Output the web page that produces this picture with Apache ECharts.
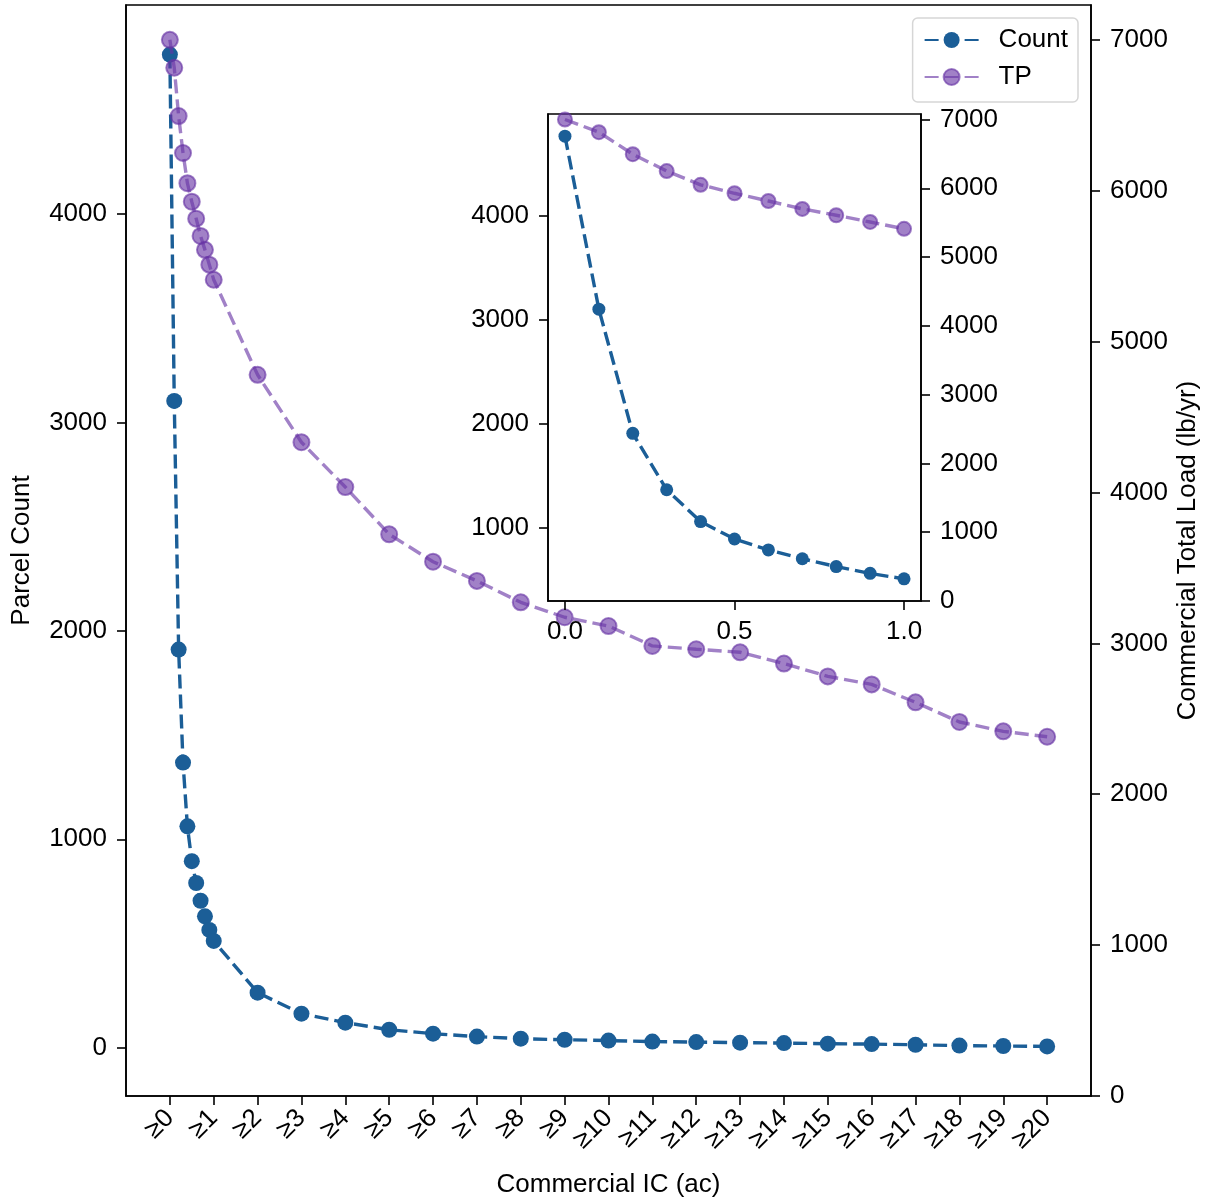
<!DOCTYPE html>
<html>
<head>
<meta charset="utf-8">
<script src="https://cdn.jsdelivr.net/npm/echarts@6/dist/echarts.min.js"></script>
<style>
html,body{margin:0;padding:0;background:#fff;}
#chart{width:1209px;height:1202px;}
</style>
</head>
<body>
<div id="chart"></div>
<script>
// ---- data ----
const xValues = [0, 0.1, 0.2, 0.3, 0.4, 0.5, 0.6, 0.7, 0.8, 0.9, 1.0,
  2, 3, 4, 5, 6, 7, 8, 9, 10, 11, 12, 13, 14, 15, 16, 17, 18, 19, 20];
const countValues = [4765, 3103, 1910, 1368, 1062, 895, 790, 705, 630, 565, 512,
  264, 163, 120, 86, 67, 53, 43, 38, 34, 29, 27, 24, 22, 19, 17, 14, 10, 8, 6];
const tpValues = [7000, 6815, 6495, 6250, 6050, 5927, 5815, 5700, 5608, 5510, 5410,
  4780, 4333, 4036, 3723, 3541, 3414, 3272, 3173, 3115, 2983, 2961, 2941, 2866, 2781, 2728, 2609, 2479, 2417, 2381];
const xTickValues = [0,1,2,3,4,5,6,7,8,9,10,11,12,13,14,15,16,17,18,19,20];
const xTickLabels = ['≥0','≥1','≥2','≥3','≥4','≥5','≥6','≥7','≥8','≥9','≥10','≥11','≥12','≥13','≥14','≥15','≥16','≥17','≥18','≥19','≥20'];
const countTicks = [0, 1000, 2000, 3000, 4000];
const tpTicks = [0, 1000, 2000, 3000, 4000, 5000, 6000, 7000];
const insetXTicks = [0, 0.5, 1.0];
const insetCountTicks = [1000, 2000, 3000, 4000];
const insetTpTicks = [0, 1000, 2000, 3000, 4000, 5000, 6000, 7000];

// ---- derived ----
const insetN = 11;
const pairs = (xs, ys) => xs.map((x, i) => [x, ys[i]]);
const mainCount = pairs(xValues, countValues);
const mainTp = pairs(xValues, tpValues);
const insetCount = pairs(xValues.slice(0, insetN), countValues.slice(0, insetN));
const insetTp = pairs(xValues.slice(0, insetN), tpValues.slice(0, insetN));
function pad(vals) {
  const mn = Math.min(...vals), mx = Math.max(...vals), r = mx - mn;
  return [mn - 0.05 * r, mx + 0.05 * r];
}
const mainCountLim = pad(countValues);
const mainTpLim = [0, Math.max(...tpValues) + 0.05 * (Math.max(...tpValues) - Math.min(...tpValues))];
const ic = countValues.slice(0, insetN), it = tpValues.slice(0, insetN);
const insetCountLim = pad(ic);
const insetTpLim = [0, Math.max(...it) + 0.05 * (Math.max(...it) - Math.min(...it))];
const mainXLim = [-1, 21];
const insetXLim = [-0.05, 1.05];

const FONT = "'Liberation Sans', Arial, sans-serif";
const FS = 26;
const BLUE = '#1b5e97';
const PURPLE = 'rgba(104,52,164,0.62)';
const DASH = [14, 6];
const LW = 3.4;
const lineAxis = {show: true, onZero: false, lineStyle: {color: '#000', width: 1.6}};
const tickStyle = {length: 9, inside: false, lineStyle: {color: '#000', width: 1.6}};
const lbl = {color: '#000', fontFamily: FONT, fontSize: FS};
const plain = v => String(v);

const chart = echarts.init(document.getElementById('chart'), null, {renderer: 'canvas'});
chart.setOption({
  backgroundColor: '#fff',
  animation: false,
  textStyle: {fontFamily: FONT},
  legend: {
    data: ['Count', 'TP'],
    orient: 'vertical',
    right: 131, top: 18,
    padding: [9, 10, 12, 11],
    itemWidth: 54, itemHeight: 20, itemGap: 11,
    backgroundColor: 'rgba(255,255,255,0.85)',
    borderColor: '#d6d6d6', borderWidth: 1.5, borderRadius: 5,
    textStyle: {color: '#000', fontFamily: FONT, fontSize: FS, padding: [0, 0, 0, 15]},
    z: 20
  },
  grid: [
    {left: 126, right: 118, top: 5, bottom: 106, show: true, borderColor: '#000', borderWidth: 1.6,
      backgroundColor: 'transparent', containLabel: false, outerBoundsMode: 'none'},
    {left: 548, right: 288, top: 114, bottom: 601, show: true, borderColor: '#000', borderWidth: 1.6,
      backgroundColor: '#fff', z: 5, containLabel: false, outerBoundsMode: 'none'}
  ],
  xAxis: [
    {type: 'value', gridIndex: 0, min: mainXLim[0], max: mainXLim[1],
      axisLine: lineAxis, splitLine: {show: false},
      axisTick: Object.assign({customValues: xTickValues}, tickStyle),
      axisLabel: Object.assign({customValues: xTickValues, rotate: 45, margin: 18,
        formatter: v => xTickLabels[xTickValues.indexOf(v)] || ''}, lbl),
      name: 'Commercial IC (ac)', nameLocation: 'middle', nameGap: 76, nameMoveOverlap: false,
      nameTextStyle: lbl},
    {type: 'value', gridIndex: 1, min: insetXLim[0], max: insetXLim[1], z: 7,
      axisLine: lineAxis, splitLine: {show: false},
      axisTick: Object.assign({customValues: insetXTicks}, tickStyle),
      axisLabel: Object.assign({customValues: insetXTicks, margin: 18,
        formatter: v => v.toFixed(1)}, lbl)}
  ],
  yAxis: [
    {type: 'value', gridIndex: 0, position: 'left', min: mainCountLim[0], max: mainCountLim[1],
      axisLine: lineAxis, splitLine: {show: false},
      axisTick: Object.assign({customValues: countTicks}, tickStyle),
      axisLabel: Object.assign({customValues: countTicks, margin: 19, formatter: plain}, lbl),
      name: 'Parcel Count', nameLocation: 'middle', nameGap: 91, nameRotate: 90, nameMoveOverlap: false,
      nameTextStyle: lbl},
    {type: 'value', gridIndex: 0, position: 'right', min: mainTpLim[0], max: mainTpLim[1],
      axisLine: lineAxis, splitLine: {show: false},
      axisTick: Object.assign({customValues: tpTicks}, tickStyle),
      axisLabel: Object.assign({customValues: tpTicks, margin: 19, formatter: plain}, lbl),
      name: 'Commercial Total Load (lb/yr)', nameLocation: 'middle', nameGap: 84, nameRotate: 90, nameMoveOverlap: false,
      nameTextStyle: lbl},
    {type: 'value', gridIndex: 1, position: 'left', min: insetCountLim[0], max: insetCountLim[1], z: 7,
      axisLine: lineAxis, splitLine: {show: false},
      axisTick: Object.assign({customValues: insetCountTicks}, tickStyle),
      axisLabel: Object.assign({customValues: insetCountTicks, margin: 19, formatter: plain}, lbl)},
    {type: 'value', gridIndex: 1, position: 'right', min: insetTpLim[0], max: insetTpLim[1], z: 7,
      axisLine: lineAxis, splitLine: {show: false},
      axisTick: Object.assign({customValues: insetTpTicks}, tickStyle),
      axisLabel: Object.assign({customValues: insetTpTicks, margin: 19, formatter: plain}, lbl)}
  ],
  series: [
    {name: 'Count', type: 'line', xAxisIndex: 0, yAxisIndex: 0, data: mainCount, z: 2,
      symbol: 'circle', symbolSize: 16, color: BLUE,
      lineStyle: {color: BLUE, width: LW, type: DASH},
      itemStyle: {color: BLUE, borderWidth: 0}},
    {name: 'TP', type: 'line', xAxisIndex: 0, yAxisIndex: 1, data: mainTp, z: 3,
      symbol: 'circle', symbolSize: 16, color: PURPLE,
      lineStyle: {color: PURPLE, width: LW, type: DASH},
      itemStyle: {color: PURPLE, borderColor: PURPLE, borderWidth: 2}},
    {name: 'Count', type: 'line', xAxisIndex: 1, yAxisIndex: 2, data: insetCount, z: 8,
      symbol: 'circle', symbolSize: 13, color: BLUE,
      lineStyle: {color: BLUE, width: LW, type: DASH},
      itemStyle: {color: BLUE, borderWidth: 0}},
    {name: 'TP', type: 'line', xAxisIndex: 1, yAxisIndex: 3, data: insetTp, z: 9,
      symbol: 'circle', symbolSize: 14, color: PURPLE,
      lineStyle: {color: PURPLE, width: LW, type: DASH},
      itemStyle: {color: PURPLE, borderColor: PURPLE, borderWidth: 2}}
  ]
});
</script>
</body>
</html>
